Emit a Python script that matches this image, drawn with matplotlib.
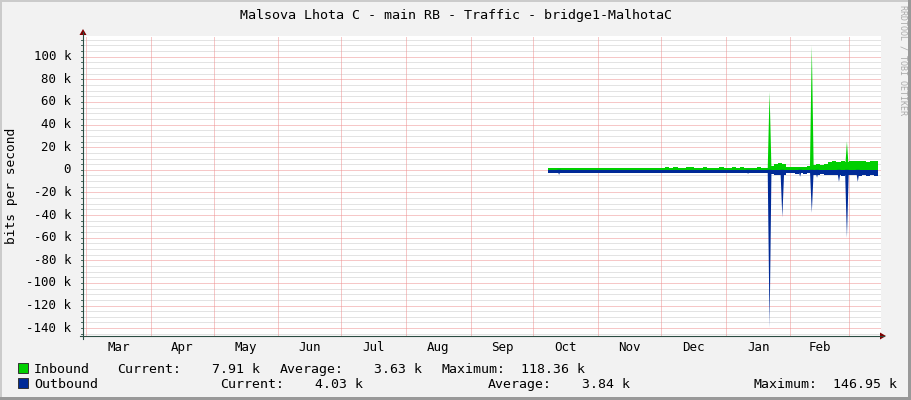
import numpy as np
import matplotlib.pyplot as plt
from matplotlib.patches import Polygon, Rectangle
from matplotlib.lines import Line2D
from matplotlib.transforms import blended_transform_factory

W, H = 911, 400

# x values are days counted from 1 March
month_names = ['Mar', 'Apr', 'May', 'Jun', 'Jul', 'Aug', 'Sep', 'Oct', 'Nov', 'Dec', 'Jan', 'Feb']
month_starts = [0, 31, 61, 92, 122, 153, 184, 214, 245, 275, 306, 337, 365]

# traffic in kbit/s, two-day samples from 8 Oct to mid March
days = [221, 223, 225, 227, 229, 231, 233, 235, 237, 239,
        241, 243, 245, 247, 249, 251, 253, 255, 257, 259,
        261, 263, 265, 267, 269, 271, 273, 275, 277, 279,
        281, 283, 285, 287, 289, 291, 293, 295, 297, 299,
        301, 303, 305, 307, 309, 311, 313, 315, 317, 319,
        321, 323, 325, 327, 329, 331, 333, 335, 337, 339,
        341, 343, 345, 347, 349, 351, 353, 355, 357, 359,
        361, 363, 365, 367, 369, 371, 373, 375, 377, 379]
inbound = [1.4, 1.4, 1.4, 1.4, 1.4, 1.4, 1.4, 1.4, 1.4, 1.4,
           1.4, 1.4, 1.4, 1.4, 1.4, 1.4, 1.4, 1.4, 1.4, 1.4,
           1.4, 1.4, 1.4, 1.4, 1.4, 1.4, 1.4, 2.0, 2.3, 1.8,
           2.2, 1.9, 1.8, 2.1, 2.3, 1.8, 1.9, 2.2, 1.8, 2.0,
           1.9, 2.3, 1.8, 1.9, 2.1, 1.8, 2.2, 1.9, 2.0, 1.8,
           2.1, 1.9, 2.0, 3.2, 5.5, 6.0, 5.2, 2.4, 2.2, 2.3,
           2.8, 2.3, 3.5, 4.6, 4.8, 4.6, 4.8, 7.2, 7.4, 7.3,
           7.6, 7.0, 7.5, 7.8, 7.4, 7.6, 7.3, 7.9, 7.7, 7.9]
outbound = [-2.4, -2.4, -2.4, -2.4, -2.4, -2.4, -2.4, -2.4, -2.4, -2.4,
            -2.4, -2.4, -2.4, -2.4, -2.4, -2.4, -2.4, -2.4, -2.4, -2.4,
            -2.4, -2.4, -2.4, -2.4, -2.4, -2.4, -2.4, -2.4, -2.4, -2.4,
            -2.4, -2.4, -2.4, -2.4, -2.4, -2.4, -2.4, -2.4, -2.4, -2.4,
            -2.4, -2.4, -2.4, -2.4, -2.4, -2.4, -2.4, -2.4, -2.4, -2.4,
            -2.4, -2.4, -2.4, -4.0, -4.5, -4.2, -4.4, -3.0, -2.8, -3.5,
            -3.0, -4.0, -3.2, -5.0, -4.5, -4.0, -4.5, -4.5, -5.0, -4.8,
            -5.5, -4.2, -4.8, -5.0, -5.5, -4.6, -5.2, -4.8, -5.5, -5.0]

# short peaks (day, kbit/s)
in_peak_days = [327.0, 347.2, 364.0]
in_peak_vals = [69, 110, 25]
out_peak_days = [226.3, 316.7, 327.0, 333.1, 341.6, 347.2, 349.7, 360.2, 364.0, 369.2]
out_peak_vals = [-4.4, -3.8, -140, -42, -6, -38, -7, -10.6, -60, -10.6]

y_major = [-140, -120, -100, -80, -60, -40, -20, 0, 20, 40, 60, 80, 100]
y_labels = ['-140 k', '-120 k', '-100 k', '-80 k', '-60 k', '-40 k', '-20 k',
            '0', '20 k', '40 k', '60 k', '80 k', '100 k']

title = 'Malsova Lhota C - main RB - Traffic - bridge1-MalhotaC'
legend_rows = [
    ('Inbound', '#00CF00', [('Current:', 117), ('7.91 k', 260), ('Average:', 280),
                           ('3.63 k', 422), ('Maximum:', 442), ('118.36 k', 585)]),
    ('Outbound', '#002A97', [('Current:', 220), ('4.03 k', 363), ('Average:', 488),
                            ('3.84 k', 630), ('Maximum:', 753), ('146.95 k', 897)]),
]

green = '#00CF00'
blue = '#002A97'
mono = 'DejaVu Sans Mono'


def fx(x):
    return x / W


def fy(y):
    return 1 - y / H


fig = plt.figure(figsize=(W / 100, H / 100), dpi=100, facecolor='#F2F2F2')

# frame shading
fig.patches.append(Rectangle((0, fy(2)), 1, 2 / H, transform=fig.transFigure, color='#CBCBCB', lw=0))
fig.patches.append(Rectangle((0, 0), 2 / W, 1, transform=fig.transFigure, color='#CBCBCB', lw=0))
fig.patches.append(Rectangle((0, 0), 1, 3 / H, transform=fig.transFigure, color='#999999', lw=0))
fig.patches.append(Rectangle((fx(908), 0), 3 / W, 1, transform=fig.transFigure, color='#999999', lw=0))

left, right, top, bottom = 83, 881, 36, 336
ax = fig.add_axes([fx(left), fy(bottom), (right - left) / W, (bottom - top) / H])
ax.set_facecolor('white')
ax.set_xlim(-1.44, 380.3)
ax.set_ylim(-146.95, 118.36)
for s in ax.spines.values():
    s.set_visible(False)
ax.set_xticks([])
ax.set_yticks([])

# grid, dotted 1px on / 1px off
dot = (0, (1, 1))
for y in np.arange(-145, 119, 5):
    if y % 20 == 0:
        continue
    ax.axhline(y, color='#C8C8C8', lw=0.72, ls=dot, snap=True, zorder=1)
for y in y_major:
    ax.axhline(y, color='#EE9090', lw=0.72, ls=dot, snap=True, zorder=1)
for d in month_starts:
    ax.axvline(d, color='#EE9090', lw=0.72, ls=dot, snap=True, zorder=1)

# data
ax.fill_between(days, inbound, 0, step='post', color=green, lw=0, zorder=2)
ax.fill_between(days, outbound, 0, step='post', color=blue, lw=0, zorder=2)
for d, v in zip(in_peak_days, in_peak_vals):
    ax.add_patch(Polygon([[d - 0.9, 0], [d, v], [d + 0.9, 0]], closed=True, color=green, lw=0, zorder=2))
for d, v in zip(out_peak_days, out_peak_vals):
    ax.add_patch(Polygon([[d - 0.9, 0], [d, v], [d + 0.9, 0]], closed=True, color=blue, lw=0, zorder=2))

# tick labels
for y, lab in zip(y_major, y_labels):
    ax.text(-0.015, y, lab, transform=ax.get_yaxis_transform(), ha='right', va='center',
            fontsize=9, family=mono)
month_tr = blended_transform_factory(ax.transData, fig.transFigure)
for i, name in enumerate(month_names):
    mid = (month_starts[i] + month_starts[i + 1]) / 2
    ax.text(mid, fy(351), name, transform=month_tr, ha='center', va='baseline',
            fontsize=9, family=mono)

# axes lines, small ticks and arrows
axis_col = '#2C4D43'
fig.lines.append(Line2D([fx(80), fx(884)], [fy(336), fy(336)], transform=fig.transFigure,
                        color=axis_col, lw=0.8))
fig.lines.append(Line2D([fx(83), fx(83)], [fy(339), fy(32)], transform=fig.transFigure,
                        color=axis_col, lw=0.8))
ytr = blended_transform_factory(fig.transFigure, ax.transData)
for y in np.arange(-145, 119, 5):
    fig.lines.append(Line2D([fx(80.5), fx(83)], [y, y], transform=ytr, color=axis_col, lw=0.6))
fig.patches.append(Polygon([[fx(880), fy(332.5)], [fx(886), fy(336)], [fx(880), fy(339.5)]],
                           closed=True, transform=fig.transFigure, color='#7F0000', lw=0))
fig.patches.append(Polygon([[fx(79.5), fy(35)], [fx(83), fy(29)], [fx(86.5), fy(35)]],
                           closed=True, transform=fig.transFigure, color='#7F0000', lw=0))

# texts
fig.text(fx(456), fy(18.7), title, ha='center', va='baseline', fontsize=9.6, family=mono)
fig.text(fx(12), fy(186), 'bits per second', rotation=90, ha='center', va='center',
         fontsize=9.3, family=mono)
fig.text(fx(903), fy(60), 'RRDTOOL / TOBI OETIKER', rotation=270, ha='center', va='center',
         fontsize=6, family=mono, color='#AAAAAA')

row_y = [373.3, 388.3]
for (name, col, items), y in zip(legend_rows, row_y):
    fig.patches.append(Rectangle((fx(17.5), fy(y)), 10 / W, 10 / H, transform=fig.transFigure,
                                 facecolor=col, edgecolor='#333333', lw=0.7))
    fig.text(fx(34), fy(y), name, ha='left', va='baseline', fontsize=9.5, family=mono)
    for txt, x in items:
        ha = 'left' if txt.endswith(':') else 'right'
        fig.text(fx(x), fy(y), txt, ha=ha, va='baseline', fontsize=9.5, family=mono)

fig.savefig('out.png', dpi=100, facecolor=fig.get_facecolor())
